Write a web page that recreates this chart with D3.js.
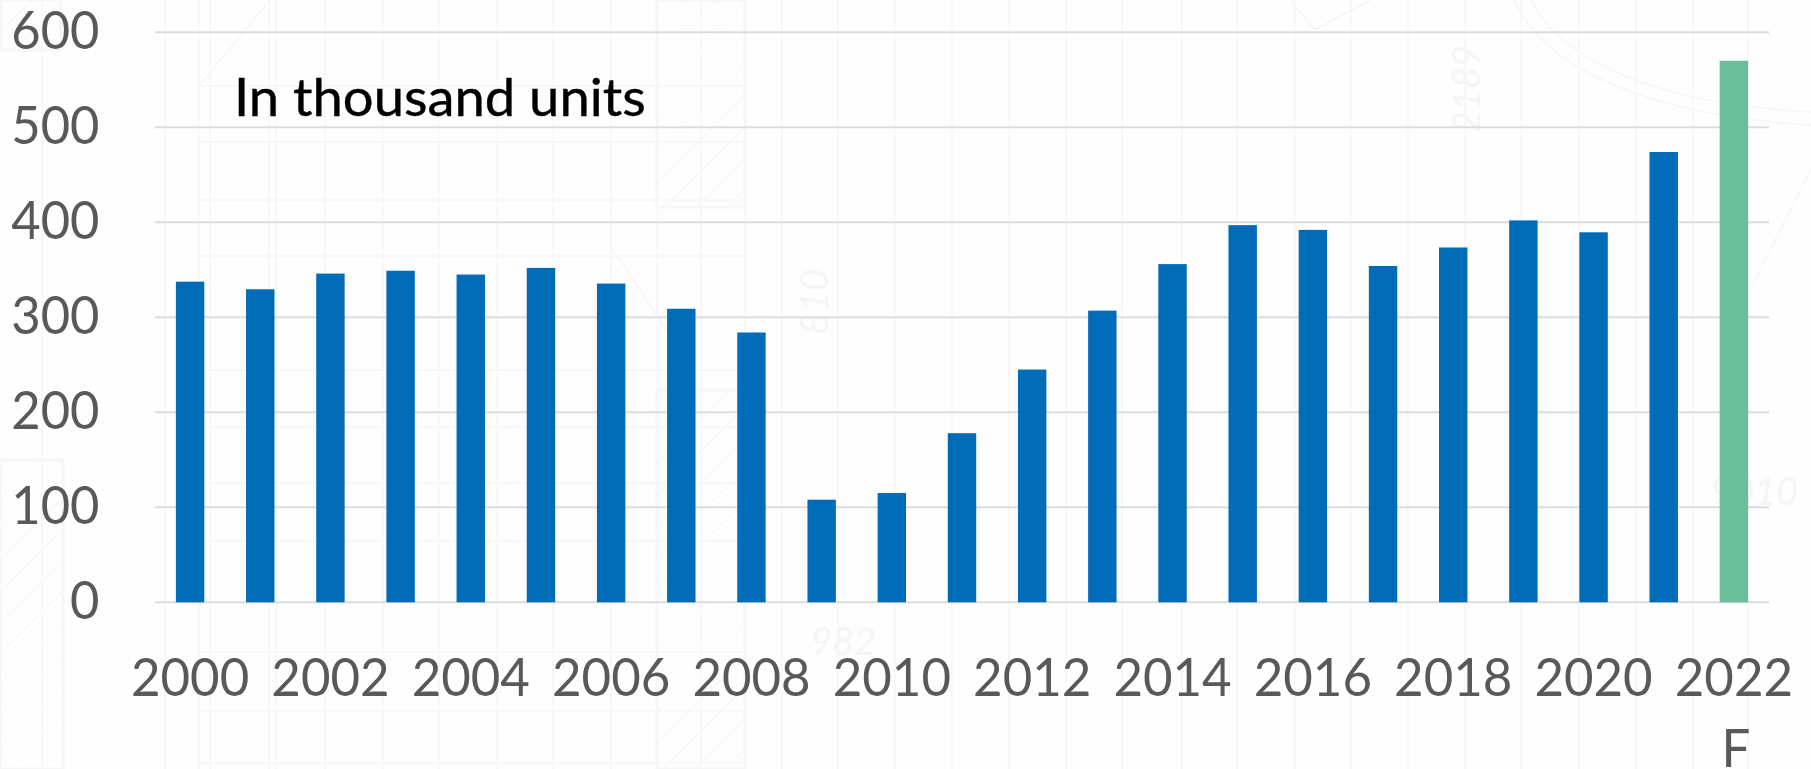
<!DOCTYPE html>
<html><head><meta charset="utf-8">
<script src="https://cdn.jsdelivr.net/npm/d3@7/dist/d3.min.js"></script>
<style>html,body{margin:0;padding:0;background:#fff;overflow:hidden}svg{display:block}text{font-family:Lato,"Open Sans",sans-serif}</style>
</head><body><svg id="c" width="1811" height="769"></svg>
<script>
const years=["2000","2001","2002","2003","2004","2005","2006","2007","2008","2009","2010","2011","2012","2013","2014","2015","2016","2017","2018","2019","2020","2021","2022 F"];
const units=[337.5,329.5,346,349,345,352,335.5,309,284,108,115,178,245,307,356,397,392,354,373.5,402,389.5,474,570];
const yTicks=[0,100,200,300,400,500,600];
const note="In thousand units";
const barColor="#006bb6",forecastColor="#6bbe9b",gridColor="#dcdcdc",labelColor="#595959",sketchColor="#f6f6f6";

// faint blueprint backdrop behind the chart
const sketchV=[42,165,199,210,269,276,325,383,439,497,553,611,657,701,745,782,838,895,952,1009,1066,1122,1182,1237,1295,1351,1408,1465,1521,1579,1636,1693,1748];
const sketchH=[86,142,200,256,370,427,483,541,652,711,763];
const hatchBlocks=[[0,460,63,309],[657,0,88,207],[657,390,88,379],[1,0,60,50]];
const sketchCurves=["M1514,0C1545,70 1650,115 1811,125","M1531,0C1560,60 1660,105 1811,112","M1811,168L1750,290","M199,86L270,0","M610,245L680,350","M1290,0L1315,30L1370,0"];
const sketchNotes=[["810",828,335,-90],["982",810,655,0],["2189",1480,133,-90],["9010",1710,505,0]];

const svg=d3.select("#c");
svg.append("rect").attr("width",1811).attr("height",769).attr("fill","#fefefe");
const pat=svg.append("defs").append("pattern").attr("id","hatch").attr("width",22).attr("height",22)
 .attr("patternUnits","userSpaceOnUse").attr("patternTransform","rotate(45)");
pat.append("line").attr("x1",0).attr("x2",0).attr("y1",0).attr("y2",22).attr("stroke",sketchColor).attr("stroke-width",2);
const bg=svg.append("g").attr("stroke",sketchColor).attr("fill","none").attr("stroke-width",1.5);
bg.selectAll(".v").data(sketchV).join("line").attr("x1",d=>d).attr("x2",d=>d).attr("y1",0).attr("y2",769);
bg.selectAll(".h").data(sketchH).join("line").attr("x1",199).attr("x2",745).attr("y1",d=>d).attr("y2",d=>d);
bg.selectAll(".b").data(hatchBlocks).join("rect").attr("x",d=>d[0]).attr("y",d=>d[1]).attr("width",d=>d[2]).attr("height",d=>d[3]).attr("fill","url(#hatch)").attr("stroke-width",3);
bg.selectAll(".c").data(sketchCurves).join("path").attr("d",d=>d);
svg.append("g").selectAll("text").data(sketchNotes).join("text")
 .attr("transform",d=>`translate(${d[1]},${d[2]}) rotate(${d[3]})`)
 .attr("font-size",38).attr("font-style","italic").attr("fill","#f5f5f5").text(d=>d[0]);

const x=d3.scaleBand().domain(years).range([155,1769]).paddingInner(0.595).paddingOuter(0.2975);
const y=d3.scaleLinear().domain([0,600]).range([602.3,32.3]);

svg.append("g").attr("stroke",gridColor).attr("stroke-width",2)
 .selectAll("line").data(yTicks).join("line")
 .attr("x1",155).attr("x2",1769).attr("y1",d=>y(d)).attr("y2",d=>y(d));

svg.append("g").selectAll("rect").data(years).join("rect")
 .attr("x",d=>x(d)).attr("width",x.bandwidth())
 .attr("y",(d,i)=>y(units[i])).attr("height",(d,i)=>y(0)-y(units[i]))
 .attr("fill",(d,i)=>i===years.length-1?forecastColor:barColor);

function squeeze(sel,sx){sel.attr("transform",function(){const a=+this.getAttribute("data-x"),b=+this.getAttribute("data-y");return `translate(${a},${b}) scale(${sx},1)`});}

svg.append("g").selectAll("text").data(yTicks).join("text")
 .attr("data-x",99.5).attr("data-y",d=>y(d)+17).call(squeeze,0.975)
 .attr("text-anchor","end").attr("font-size",52).attr("fill",labelColor).text(d=>d);

const shown=years.filter((d,i)=>i%2===0);
const xl=svg.append("g").selectAll("text").data(shown).join("text")
 .attr("data-x",d=>x(d)+x.bandwidth()/2).attr("data-y",696).call(squeeze,0.98)
 .attr("text-anchor","middle").attr("font-size",52).attr("fill",labelColor);
xl.append("tspan").attr("x",0).text(d=>d.split(" ")[0]);
xl.filter(d=>d.includes(" ")).append("tspan").attr("x",2).attr("dy",71).text(d=>d.split(" ")[1]);

svg.append("text").attr("data-x",234).attr("data-y",116).call(squeeze,1.045)
 .attr("font-size",52).attr("fill","#000").attr("stroke","#000").attr("stroke-width",0.4).text(note);
</script></body></html>
